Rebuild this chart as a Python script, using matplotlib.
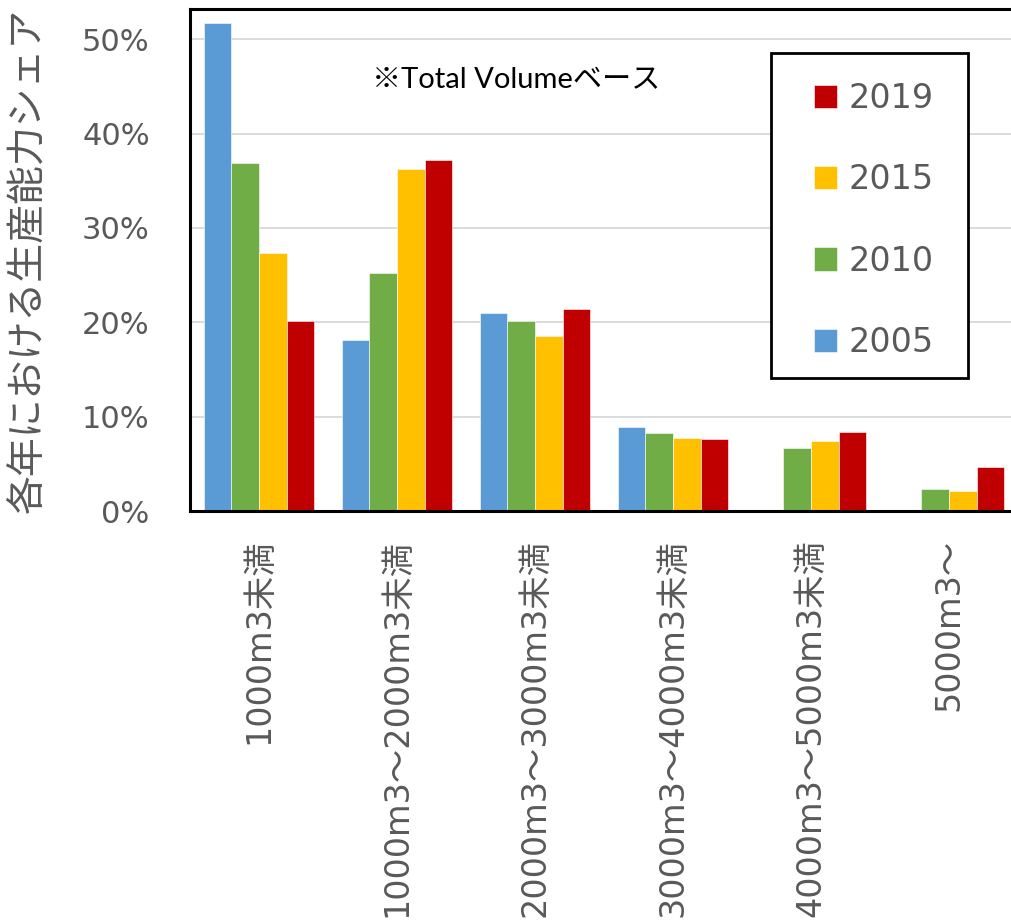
import numpy as np
import matplotlib.pyplot as plt
from matplotlib.patches import Rectangle
from matplotlib.ticker import FuncFormatter

plt.rcParams['font.family'] = ['DejaVu Sans', 'Noto Sans CJK JP']

# capacity share by plant size, per year (%)
categories = ['1000m3未満', '1000m3～2000m3未満', '2000m3～3000m3未満',
              '3000m3～4000m3未満', '4000m3～5000m3未満', '5000m3～']
years = ['2005', '2010', '2015', '2019']
share_2005 = [51.7, 18.1, 21.0, 8.9, 0.0, 0.0]
share_2010 = [36.9, 25.2, 20.1, 8.3, 6.7, 2.3]
share_2015 = [27.3, 36.2, 18.5, 7.7, 7.4, 2.15]
share_2019 = [20.1, 37.2, 21.4, 7.6, 8.4, 4.7]
colors = ['#5B9BD5', '#70AD47', '#FFC000', '#C00000']

gray = '#595959'
fig = plt.figure(figsize=(10.12, 9.21), dpi=100)
ax = fig.add_axes([190 / 1012, 410 / 921, 828 / 1012, 502 / 921])

x = np.arange(len(categories))
w = 0.2
handles = []
for i, (vals, c) in enumerate(zip([share_2005, share_2010, share_2015, share_2019], colors)):
    b = ax.bar(x + (i - 1.5) * w, vals, w, color=c, edgecolor='white',
               linewidth=0.4, label=years[i], zorder=2)
    handles.append(b)

ax.set_xlim(-0.5, len(categories) - 0.5)
ax.set_ylim(0, 53.2)
ax.set_yticks(np.arange(0, 51, 10))
ax.yaxis.set_major_formatter(FuncFormatter(lambda v, p: f'{v:.0f}%'))
ax.set_xticks(x)
ax.set_xticklabels(categories, rotation=90, fontsize=24, color=gray)
ax.tick_params(axis='x', length=0, pad=20)
ax.tick_params(axis='y', length=0, pad=29, labelsize=22, labelcolor=gray)
ax.grid(axis='y', color='#D9D9D9', linewidth=1.3)
ax.set_axisbelow(True)

for s in ['left', 'top', 'bottom']:
    ax.spines[s].set_linewidth(2.2)
    ax.spines[s].set_color('black')
ax.spines['right'].set_visible(False)

ax.set_ylabel('各年における生産能力シェア', fontsize=28, color=gray)
ax.yaxis.set_label_coords(-0.172, 0.5)

ax.text(0.22, 0.858, '※Total Volumeベース', transform=ax.transAxes,
        fontsize=21, family=['Lato', 'Noto Sans CJK JP'], ha='left', va='center')

# legend box with years listed newest first
ax.add_patch(Rectangle((0.7017, 0.265), 0.238, 0.647, transform=ax.transAxes,
                       facecolor='white', edgecolor='black', linewidth=2.0, zorder=3))
leg = ax.legend(handles[::-1], years[::-1], loc='upper left',
                bbox_to_anchor=(0.733, 0.888), frameon=False, fontsize=24,
                handlelength=0.7, handleheight=0.7, handletextpad=0.35,
                labelspacing=1.45, borderpad=0, labelcolor=gray)
leg.set_zorder(4)

fig.savefig('out.png', dpi=100)
